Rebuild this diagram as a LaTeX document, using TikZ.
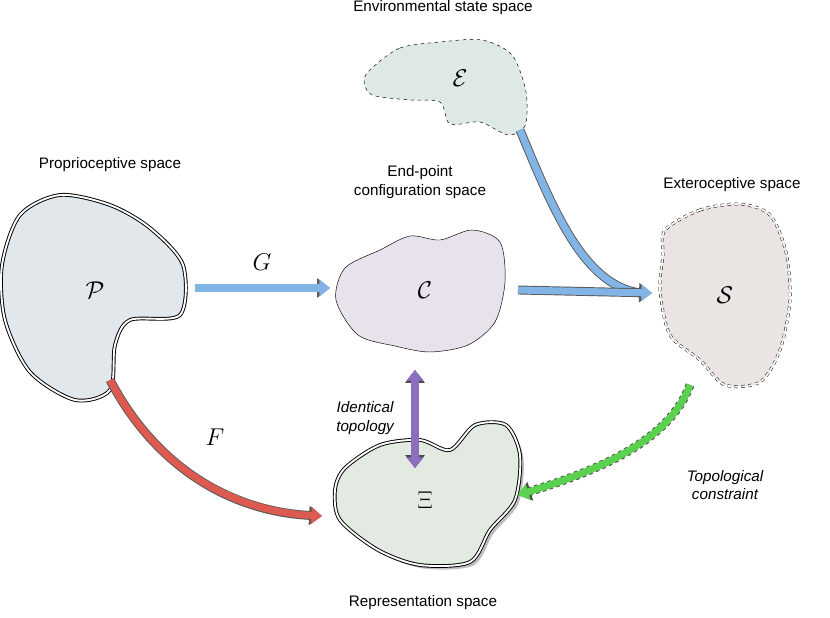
\documentclass[tikz,border=0pt]{standalone}
\usepackage{fontspec}
\setsansfont{Liberation Sans}
\usepackage{amssymb}
\usetikzlibrary{arrows.meta, shadows}
\definecolor{pblue}{RGB}{226,231,236}
\definecolor{cpurple}{RGB}{232,226,236}
\definecolor{egreen}{RGB}{222,232,230}
\definecolor{sgray}{RGB}{234,228,226}
\definecolor{xgreen}{RGB}{226,234,226}
\definecolor{abue}{RGB}{130,180,230}
\definecolor{ared}{RGB}{220,90,80}
\definecolor{agreen}{RGB}{90,210,80}
\definecolor{apurple}{RGB}{140,110,190}

\begin{document}
\begin{tikzpicture}[
        x=0.03cm, y=-0.03cm,
        caption/.style={font=\sffamily\fontsize{13}{16}\selectfont, align=center},
        note/.style={font=\sffamily\itshape\fontsize{13}{16}\selectfont, align=center},
        sym/.style={font=\fontsize{20}{22}\selectfont},
        fat/.style={line width=6pt, -{Triangle[length=9pt,width=14pt]},
            preaction={draw=black!65, line width=7.6pt, -{Triangle[length=11pt,width=16pt]}}},
        fatdash/.style={line width=6pt, -{Triangle[length=9pt,width=14pt]},
            preaction={draw=black!70, dashed, line width=7.6pt, -{Triangle[length=11pt,width=16pt]}}},
        twoway/.style={line width=6pt, {Triangle[length=9pt,width=14pt]}-{Triangle[length=9pt,width=14pt]},
            preaction={draw=black!70, dashed, line width=7.6pt, {Triangle[length=11pt,width=16pt]}-{Triangle[length=11pt,width=16pt]}}}
    ]
        \useasboundingbox (0,0) rectangle (830,618);

        % Spaces
        \draw[double, double distance=1.6pt, fill=pblue, thick] plot[smooth cycle] coordinates
            {(20,215) (60,195) (110,205) (150,228) (183,265) (180,315) (130,320) (115,345) (110,390) (75,400) (30,372) (5,320) (2,265)};
        \draw[fill=cpurple] plot[smooth cycle] coordinates
            {(345,268) (380,250) (410,236) (440,240) (472,230) (500,242) (505,282) (495,322) (468,345) (430,352) (395,346) (358,335) (336,300)};
        \draw[dashed, fill=egreen] plot[smooth cycle] coordinates
            {(372,68) (400,48) (440,42) (482,40) (512,55) (526,92) (525,126) (508,135) (480,122) (450,124) (440,102) (410,100) (372,95) (364,80)};
        \draw[dashed, double, double distance=1.6pt, fill=sgray] plot[smooth cycle] coordinates
            {(665,230) (700,210) (740,204) (770,215) (786,252) (790,300) (780,350) (760,382) (725,385) (700,360) (670,335) (660,290) (663,255)};
        \draw[double, double distance=1.6pt, fill=xgreen, thick, drop shadow={shadow xshift=3pt, shadow yshift=-3pt, opacity=0.5}] plot[smooth cycle] coordinates
            {(345,468) (380,445) (420,440) (450,450) (475,425) (506,425) (520,455) (515,500) (490,530) (470,562) (420,565) (378,550) (340,520) (335,490)};

        \node[sym] (P) at (95,290) {$\mathcal{P}$};
        \node[sym] (C) at (425,290) {$\mathcal{C}$};
        \node[sym] (E) at (460,78) {$\mathcal{E}$};
        \node[sym] (S) at (725,295) {$\mathcal{S}$};
        \node[sym] (Xi) at (425,500) {$\Xi$};

        % Captions
        \node[caption] (capE) at (443,8) {Environmental state space};
        \node[caption] (capP) at (110,165) {Proprioceptive space};
        \node[caption] (capC) at (420,182) {End-point\\configuration space};
        \node[caption] (capS) at (732,185) {Exteroceptive space};
        \node[caption] (capX) at (423,603) {Representation space};

        % Arrow ends
        \coordinate (gA) at (195,288);
        \coordinate (gB) at (330,288);
        \coordinate (cA) at (518,290);
        \coordinate (sB) at (652,293);
        \coordinate (eA) at (520,130);
        \coordinate (fA) at (110,380);
        \coordinate (fB) at (322,516);
        \coordinate (tA) at (415,370);
        \coordinate (tB) at (415,468);
        \coordinate (kA) at (690,385);
        \coordinate (kB) at (518,495);

        % Arrows
        \draw[fat, abue] (gA) -- (gB);
        \draw[line width=6pt, abue, preaction={draw=black!65, line width=7.6pt}] (eA) .. controls (555,215) and (585,285) .. (640,293);
        \draw[fat, abue] (cA) -- (sB);
        \draw[fat, ared] (fA) .. controls (160,475) and (240,512) .. (fB);
        \draw[twoway, apurple] (tA) -- (tB);
        \draw[fatdash, agreen] (kA) .. controls (670,440) and (600,470) .. (kB);

        \node[font=\fontsize{20}{22}\selectfont] (lG) at (262,262) {$G$};
        \node[font=\fontsize{20}{22}\selectfont] (lF) at (215,437) {$F$};
        \node[note, anchor=east] (lT) at (398,418) {Identical\\topology};
        \node[note] (lK) at (725,485) {Topological\\constraint};
    \end{tikzpicture}
\end{document}
